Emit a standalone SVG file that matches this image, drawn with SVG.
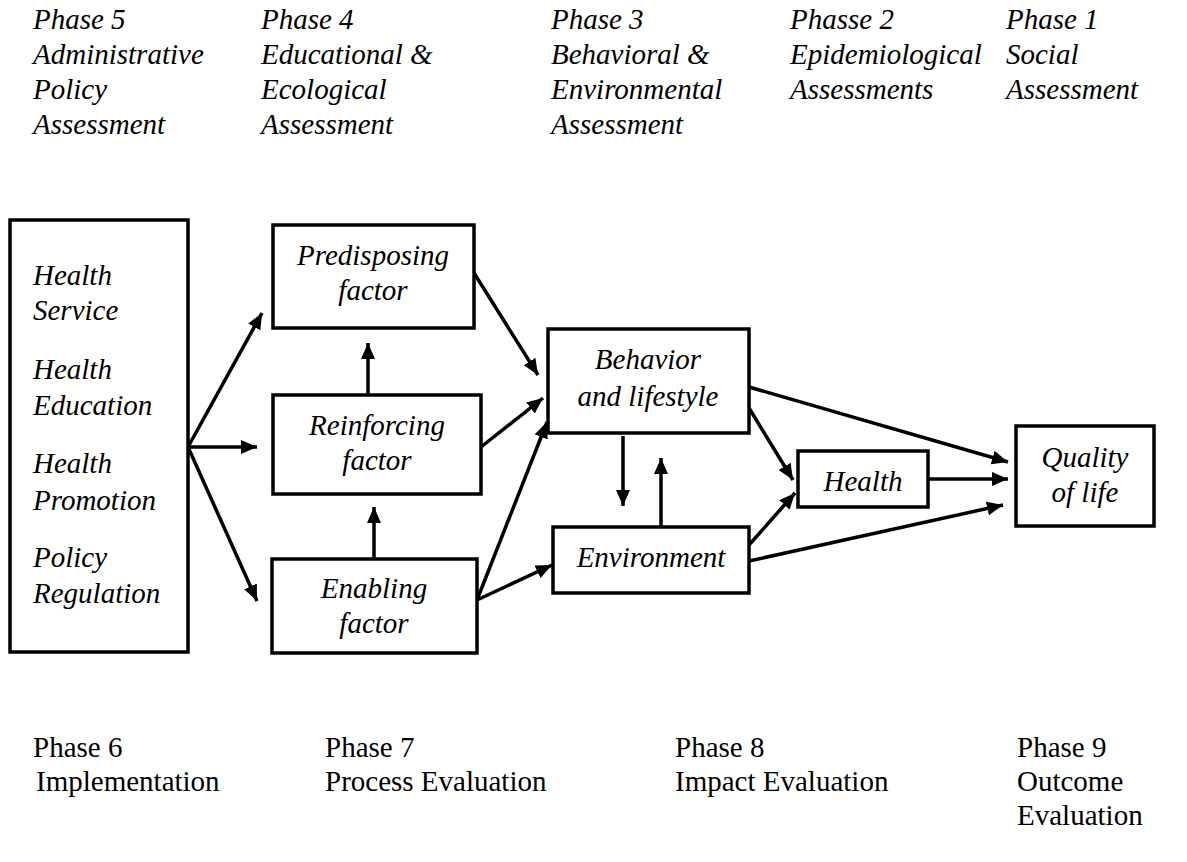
<svg xmlns="http://www.w3.org/2000/svg" width="1187" height="862" viewBox="0 0 1187 862">
<defs>
<style>
.it{font-family:'Liberation Serif',serif;font-style:italic;font-size:29px;fill:#000}
.rg{font-family:'Liberation Serif',serif;font-size:29px;fill:#000}
.c{text-anchor:middle}
.box{fill:#fff;stroke:#000;stroke-width:3.5}
.ln{stroke:#000;stroke-width:3.5;fill:none}
</style>
<marker id="ah" markerUnits="userSpaceOnUse" markerWidth="18" markerHeight="14" refX="16" refY="7" orient="auto">
<path d="M0,0 L16,7 L0,14 z" fill="#000"/>
</marker>
</defs>
<rect width="1187" height="862" fill="#fff"/>

<g id="phases-top" class="it">
<text x="33" y="29">Phase 5</text><text x="33" y="64">Administrative</text><text x="33" y="99">Policy</text><text x="33" y="134">Assessment</text>
<text x="261" y="29">Phase 4</text><text x="261" y="64">Educational &amp;</text><text x="261" y="99">Ecological</text><text x="261" y="134">Assessment</text>
<text x="551" y="29">Phase 3</text><text x="551" y="64">Behavioral &amp;</text><text x="551" y="99">Environmental</text><text x="551" y="134">Assessment</text>
<text x="790" y="29">Phasse 2</text><text x="790" y="64">Epidemiological</text><text x="790" y="99">Assessments</text>
<text x="1006" y="29">Phase 1</text><text x="1006" y="64">Social</text><text x="1006" y="99">Assessment</text>
</g>

<g id="phases-bottom" class="rg">
<text x="33" y="757">Phase 6</text><text x="36" y="791">Implementation</text>
<text x="325" y="757">Phase 7</text><text x="325" y="791">Process Evaluation</text>
<text x="675" y="757">Phase 8</text><text x="675" y="791">Impact Evaluation</text>
<text x="1017" y="757">Phase 9</text><text x="1017" y="791">Outcome</text><text x="1017" y="825">Evaluation</text>
</g>

<g id="connectors" class="ln">
<line x1="188" y1="447" x2="262" y2="313" marker-end="url(#ah)"/>
<line x1="188" y1="447" x2="257" y2="447" marker-end="url(#ah)"/>
<line x1="188" y1="447" x2="257" y2="601" marker-end="url(#ah)"/>
<line x1="368" y1="395" x2="368" y2="343" marker-end="url(#ah)"/>
<line x1="374" y1="559" x2="374" y2="507" marker-end="url(#ah)"/>
<line x1="474" y1="273" x2="538" y2="375" marker-end="url(#ah)"/>
<line x1="481" y1="447" x2="543" y2="398" marker-end="url(#ah)"/>
<line x1="477" y1="600" x2="547" y2="422" marker-end="url(#ah)"/>
<line x1="477" y1="600" x2="552" y2="565" marker-end="url(#ah)"/>
<line x1="623" y1="436" x2="623" y2="506" marker-end="url(#ah)"/>
<line x1="661" y1="527" x2="661" y2="458" marker-end="url(#ah)"/>
<line x1="749" y1="408" x2="793" y2="480" marker-end="url(#ah)"/>
<line x1="749" y1="545" x2="795" y2="493" marker-end="url(#ah)"/>
<line x1="749" y1="387" x2="1008" y2="462" marker-end="url(#ah)"/>
<line x1="928" y1="479" x2="1008" y2="479" marker-end="url(#ah)"/>
<line x1="749" y1="561" x2="1003" y2="505" marker-end="url(#ah)"/>
</g>

<g id="node-programs" class="it">
<rect class="box" x="10" y="220" width="178" height="432"/>
<text x="33" y="285">Health</text><text x="33" y="320">Service</text>
<text x="33" y="379">Health</text><text x="33" y="415">Education</text>
<text x="33" y="473">Health</text><text x="33" y="510">Promotion</text>
<text x="33" y="567">Policy</text><text x="33" y="603">Regulation</text>
</g>

<g id="node-predisposing" class="it c">
<rect class="box" x="273" y="225" width="201" height="103"/>
<text x="373" y="265">Predisposing</text><text x="373" y="300">factor</text>
</g>

<g id="node-reinforcing" class="it c">
<rect class="box" x="273" y="395" width="208" height="99"/>
<text x="377" y="435">Reinforcing</text><text x="377" y="470">factor</text>
</g>

<g id="node-enabling" class="it c">
<rect class="box" x="272" y="559" width="205" height="94"/>
<text x="374" y="598">Enabling</text><text x="374" y="633">factor</text>
</g>

<g id="node-behavior" class="it c">
<rect class="box" x="548" y="329" width="201" height="104"/>
<text x="648" y="369">Behavior</text><text x="648" y="406">and lifestyle</text>
</g>

<g id="node-environment" class="it c">
<rect class="box" x="553" y="527" width="196" height="66"/>
<text x="651" y="567">Environment</text>
</g>

<g id="node-health" class="it c">
<rect class="box" x="798" y="451" width="130" height="56"/>
<text x="863" y="491">Health</text>
</g>

<g id="node-quality" class="it c">
<rect class="box" x="1016" y="426" width="138" height="100"/>
<text x="1085" y="467">Quality</text><text x="1085" y="502">of life</text>
</g>
</svg>
